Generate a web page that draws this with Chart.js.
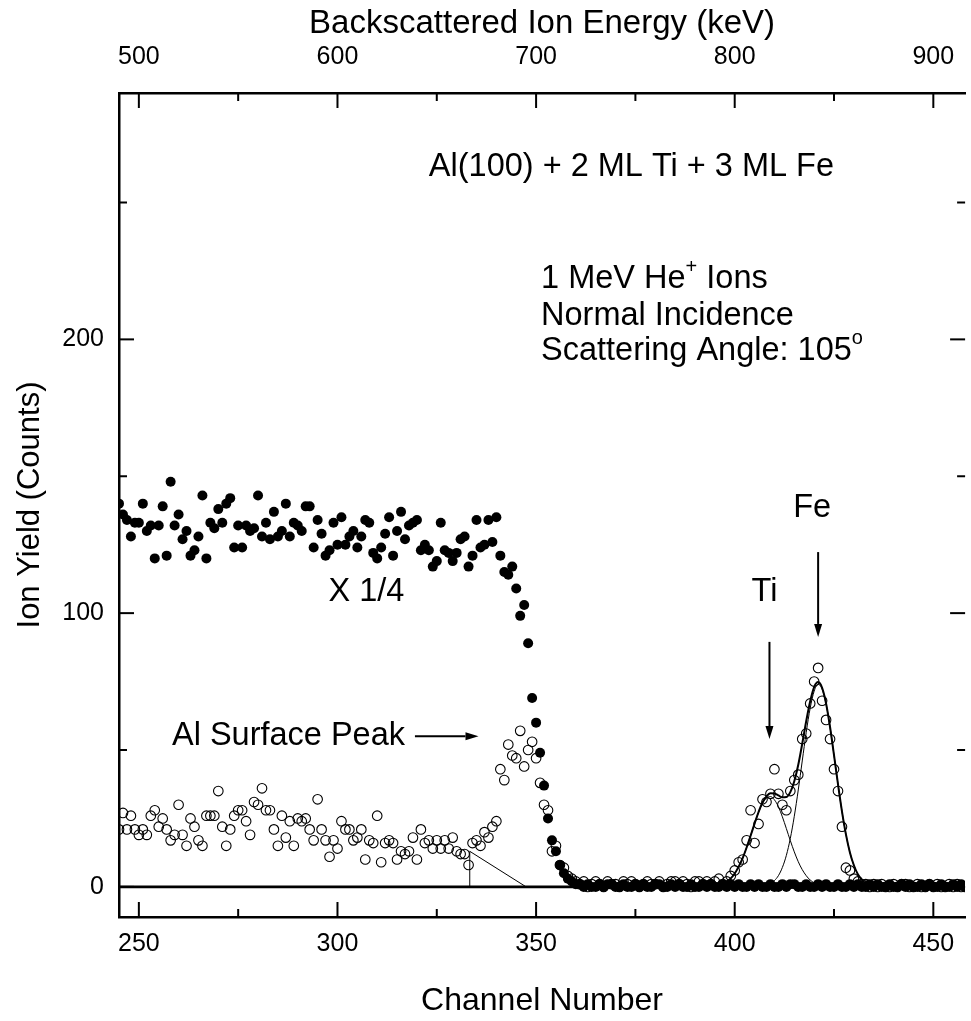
<!DOCTYPE html>
<html>
<head>
<meta charset="utf-8">
<script src="https://cdn.jsdelivr.net/npm/chart.js@4.4.1/dist/chart.umd.min.js"></script>
<style>
  html, body { margin: 0; padding: 0; background: #fff; }
  canvas { display: block; }
</style>
</head>
<body>
<canvas id="rbs_chart" width="971" height="1021"></canvas>
<script>
// channel of the first point in every count list
const firstChannel = 245;
const lastChannel = 458;

// random spectrum, shown X 1/4 (filled dots)
const randomCounts = [
  140,136,134,128,133,133,140,130,132,120,
  132,139,121,148,132,136,127,130,121,123,
  128,143,120,133,131,138,133,140,142,124,
  132,124,132,130,131,143,128,133,127,137,
  128,130,140,128,133,132,130,139,139,124,
  134,129,121,123,133,125,135,125,128,130,
  124,128,134,133,122,120,124,129,135,121,
  130,137,127,132,133,134,123,125,123,117,
  119,133,123,122,119,122,127,128,117,121,
  134,124,125,134,126,135,121,115,114,117,
  109,99,103,89,69,60,49,37,25,17,
  13,8,5,3,2,1,
  1,0,1,0,0,1,0,1,1,0, 0,1,0,0,1,0,1,0,0,1,
  1,0,0,1,0,1,0,0,1,0, 0,1,0,1,0,0,1,0,1,0,
  1,0,0,1,0,1,0,0,1,0, 0,1,0,1,1,0,0,1,0,0,
  1,0,1,0,0,1,0,0,1,0, 1,0,0,1,0,1,0,0,1,0,
  0,1,0,1,0,0,1,0,1,0, 0,1,0,0,1,0,1,0
];

// aligned spectrum (open circles)
const alignedCounts = [
  21,27,21,26,21,19,21,19,26,28,
  22,25,21,17,19,30,19,15,25,22,
  17,15,26,26,26,35,22,15,21,26,
  28,28,24,19,31,30,36,28,28,21,
  15,26,18,24,15,25,24,25,21,17,
  32,21,17,11,17,14,24,21,21,17,
  18,21,10,17,16,26,9,16,17,16,
  10,13,12,13,18,10,21,16,17,14,
  17,14,17,14,18,13,12,12,8,16,
  17,15,20,18,22,24,43,39,52,48,
  47,57,44,50,53,47,38,30,28,13,
  15,8,7,4,3,2,
  1,2,0,1,2,1,0,2,1,1, 0,2,1,2,1,0,1,2,1,1,
  2,0,1,2,2,1,2,1,0,2, 2,1,2,1,2,3,1,2,
  4,6,9,10,17,28,16,23,32,31, 34,43,34,30,28,35,39,41,54,56,
  67,75,80,68,61,54,43,35,22,7, 6,3,2,1,
  1,0,1,0,1,0,0,1,0,1, 1,0,0,1,0,0,1,0,1,0,
  0,1,0,1,0,0
];

// fitted peaks
const tiFitStart = 397;
const tiFit = [1.1,1.9,3.1,4.9,7.4,10.5,14.4,18.7,23.1,27.2,30.5,32.5,33,
  31.8,29.3,25.6,21.3,16.9,12.8,9.2,6.3,4.1,2.5,1.5,0.8,0.4];
const feFitStart = 406;
const feFit = [0.1,0.3,0.6,1.2,2.3,4.1,7.1,11.5,17.7,25.8,35.4,46,56.4,65.3,71.5,
  74,72.3,66.8,58.3,48.1,37.5,27.6,19.2,12.6,7.9,4.6,2.6,1.3,0.7,0.3];
const sumFitStart = 395;
const sumFit = [0.3,0.6,1.1,1.9,3.1,4.9,7.4,10.5,14.4,18.7,23.1,27.3,30.8,33.1,34.2,
  34.1,33.4,32.7,32.8,34.6,38.6,44.6,52.3,60.5,67.8,73,74.8,72.7,67,58.4,
  48.1,37.5,27.6,19.2,12.6,7.9,4.6,2.6,1.3,0.7,0.3];

// background triangle under the Al surface peak
const triangleX = [333.3, 333.3, 347.5];
const triangleY = [0, 13, 0];

// ticks
const channelTicks = [250, 300, 350, 400, 450];
const channelMinorTicks = [275, 325, 375, 425];
const energyTicks = [500, 600, 700, 800, 900];
const energyMinorTicks = [550, 650, 750, 850];
const yieldTicks = [0, 100, 200];
const yieldMinorTicks = [50, 150, 250];

const toPoints = (start, values) => values.map((v, i) => ({ x: start + i, y: v }));

Chart.defaults.font.family = '"Liberation Sans", Arial, Helvetica, sans-serif';
Chart.defaults.color = '#000';

const FONT = '"Liberation Sans", Arial, Helvetica, sans-serif';

// texts and arrows, anchored in data units
const notes = [
  { ch: 323, v: 263, align: 'left', parts: [['Al(100) + 2 ML Ti + 3 ML Fe', 0]] },
  { ch: 351.25, v: 222, align: 'left', parts: [['1 MeV He', 0], ['+', 1], [' Ions', 0]] },
  { ch: 351.25, v: 208.5, align: 'left', parts: [['Normal Incidence', 0]] },
  { ch: 351.25, v: 195.8, align: 'left', parts: [['Scattering Angle: 105', 0], ['o', 1]] },
  { ch: 297.75, v: 107.7, align: 'left', parts: [['X 1/4', 0]] },
  { ch: 317, v: 55.1, align: 'right', parts: [['Al Surface Peak', 0]] },
  { ch: 407.5, v: 107.7, align: 'center', parts: [['Ti', 0]] },
  { ch: 419.5, v: 138.4, align: 'center', parts: [['Fe', 0]] }
];
const arrows = [
  { from: [319.5, 55], to: [335.5, 55] },
  { from: [408.75, 89.5], to: [408.75, 54] },
  { from: [421, 122.3], to: [421, 91.3] }
];

const frameAndNotes = {
  id: 'frameAndNotes',
  afterDraw(chart) {
    const { ctx, chartArea: a, scales } = chart;
    const x = scales.x, x2 = scales.x2, y = scales.y;
    ctx.save();
    ctx.strokeStyle = '#000';
    ctx.fillStyle = '#000';
    ctx.lineWidth = 2;

    const seg = (x1, y1, x2_, y2) => {
      ctx.beginPath(); ctx.moveTo(x1, y1); ctx.lineTo(x2_, y2); ctx.stroke();
    };
    // inward tick marks
    channelTicks.forEach(v => { const p = x.getPixelForValue(v); seg(p, a.bottom, p, a.bottom - 15); });
    channelMinorTicks.forEach(v => { const p = x.getPixelForValue(v); seg(p, a.bottom, p, a.bottom - 8); });
    energyTicks.forEach(v => { const p = x2.getPixelForValue(v); seg(p, a.top, p, a.top + 15); });
    energyMinorTicks.forEach(v => { const p = x2.getPixelForValue(v); seg(p, a.top, p, a.top + 8); });
    yieldTicks.forEach(v => {
      const p = y.getPixelForValue(v);
      seg(a.left, p, a.left + 15, p);
      seg(a.right, p, a.right - 15, p);
    });
    yieldMinorTicks.forEach(v => {
      const p = y.getPixelForValue(v);
      seg(a.left, p, a.left + 8, p);
      seg(a.right, p, a.right - 8, p);
    });

    // arrows
    arrows.forEach(ar => {
      const x1 = x.getPixelForValue(ar.from[0]), y1 = y.getPixelForValue(ar.from[1]);
      const xe = x.getPixelForValue(ar.to[0]), ye = y.getPixelForValue(ar.to[1]);
      const ang = Math.atan2(ye - y1, xe - x1), L = 13, W = 4;
      const c = Math.cos(ang), s = Math.sin(ang);
      seg(x1, y1, xe - L * c, ye - L * s);
      ctx.beginPath();
      ctx.moveTo(xe, ye);
      ctx.lineTo(xe - L * c + W * s, ye - L * s - W * c);
      ctx.lineTo(xe - L * c - W * s, ye - L * s + W * c);
      ctx.closePath();
      ctx.fill();
    });

    // texts
    ctx.textBaseline = 'middle';
    ctx.textAlign = 'left';
    notes.forEach(n => {
      const big = '32.5px ' + FONT, small = '20px ' + FONT;
      let total = 0;
      n.parts.forEach(([t, sup]) => { ctx.font = sup ? small : big; total += ctx.measureText(t).width; });
      let px = x.getPixelForValue(n.ch);
      const py = y.getPixelForValue(n.v);
      if (n.align === 'right') px -= total;
      if (n.align === 'center') px -= total / 2;
      n.parts.forEach(([t, sup]) => {
        ctx.font = sup ? small : big;
        ctx.fillText(t, px, sup ? py - 12 : py);
        px += ctx.measureText(t).width;
      });
    });
    ctx.restore();
  }
};

const lineStyle = { showLine: true, pointRadius: 0, borderColor: '#000', fill: false };

new Chart(document.getElementById('rbs_chart'), {
  type: 'scatter',
  data: {
    datasets: [
      {
        label: 'random X 1/4',
        data: toPoints(firstChannel, randomCounts),
        pointRadius: 5,
        pointBackgroundColor: '#000',
        pointBorderColor: '#000',
        pointBorderWidth: 0,
        order: 1
      },
      {
        label: 'aligned',
        data: toPoints(firstChannel, alignedCounts),
        pointRadius: 4.8,
        pointBackgroundColor: 'rgba(255,255,255,0)',
        pointBorderColor: '#000',
        pointBorderWidth: 1.1,
        order: 2
      },
      Object.assign({ label: 'sum fit', data: toPoints(sumFitStart, sumFit), borderWidth: 2, cubicInterpolationMode: 'monotone', order: 3 }, lineStyle),
      Object.assign({ label: 'Ti fit', data: toPoints(tiFitStart, tiFit), borderWidth: 1, cubicInterpolationMode: 'monotone', order: 3 }, lineStyle),
      Object.assign({ label: 'Fe fit', data: toPoints(feFitStart, feFit), borderWidth: 1, cubicInterpolationMode: 'monotone', order: 3 }, lineStyle),
      Object.assign({ label: 'background', data: triangleX.map((v, i) => ({ x: v, y: triangleY[i] })), borderWidth: 1, order: 4 }, lineStyle),
      Object.assign({ label: 'zero', data: [{ x: firstChannel, y: 0 }, { x: lastChannel, y: 0 }], borderWidth: 2.8, order: 5 }, lineStyle)
    ]
  },
  options: {
    responsive: false,
    animation: false,
    devicePixelRatio: 1,
    layout: { padding: 0 },
    plugins: {
      legend: { display: false },
      tooltip: { enabled: false }
    },
    scales: {
      x: {
        type: 'linear',
        position: 'bottom',
        min: firstChannel,
        max: lastChannel,
        grid: { display: false, drawTicks: false },
        border: { display: true, color: '#000', width: 2.5 },
        ticks: { font: { size: 25 }, padding: 12, color: '#000' },
        afterBuildTicks: s => { s.ticks = channelTicks.map(v => ({ value: v })); },
        afterFit: s => { s.height = 104; s.paddingLeft = 0; s.paddingRight = 0; },
        title: { display: true, text: 'Channel Number', font: { size: 32 }, color: '#000', padding: { top: 0, bottom: 1 } }
      },
      x2: {
        type: 'linear',
        position: 'top',
        min: firstChannel * 2,
        max: lastChannel * 2,
        grid: { display: false, drawTicks: false },
        border: { display: true, color: '#000', width: 2.5 },
        ticks: { font: { size: 25 }, padding: 21, color: '#000' },
        afterBuildTicks: s => { s.ticks = energyTicks.map(v => ({ value: v })); },
        afterFit: s => { s.height = 93; s.paddingLeft = 0; s.paddingRight = 0; },
        title: { display: true, text: 'Backscattered Ion Energy (keV)', font: { size: 33 }, color: '#000', padding: { top: 4, bottom: 0 } }
      },
      y: {
        type: 'linear',
        position: 'left',
        min: -11,
        max: 290,
        grid: { display: false, drawTicks: false },
        border: { display: true, color: '#000', width: 2.5 },
        ticks: { font: { size: 25 }, padding: 15, color: '#000' },
        afterBuildTicks: s => { s.ticks = yieldTicks.map(v => ({ value: v })); },
        afterFit: s => { s.width = 119; s.paddingTop = 0; s.paddingBottom = 0; },
        title: { display: true, text: 'Ion Yield (Counts)', font: { size: 31 }, color: '#000', padding: { top: 12, bottom: 0 } }
      }
    }
  },
  plugins: [frameAndNotes]
});
</script>
</body>
</html>
